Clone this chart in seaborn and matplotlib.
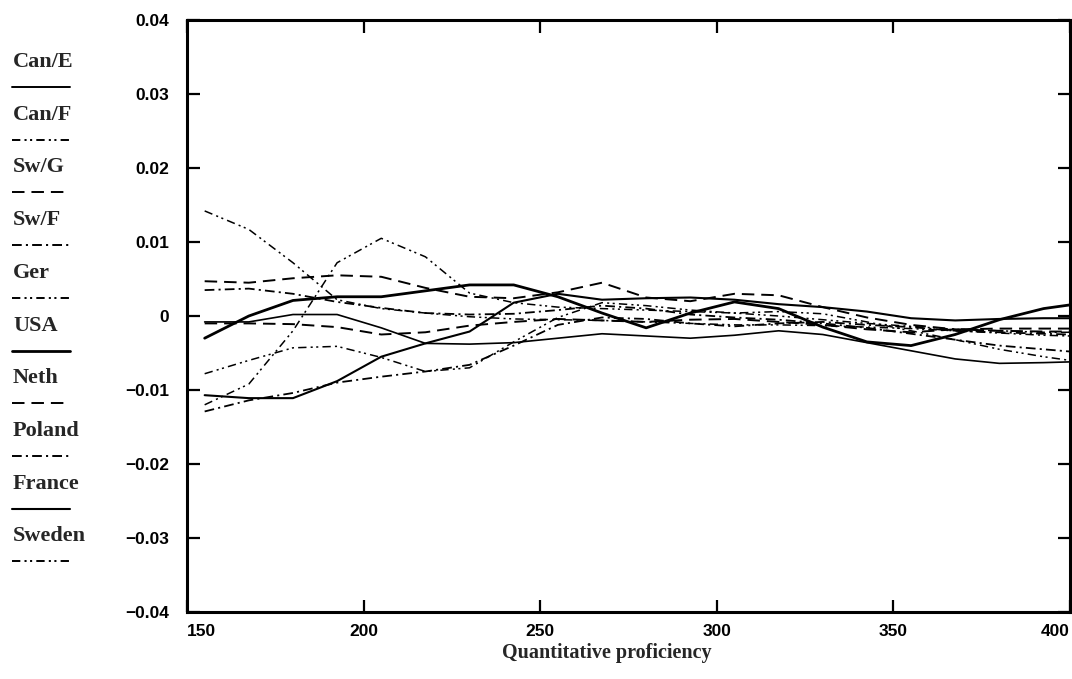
import numpy as np
import pandas as pd
import seaborn as sns
import matplotlib.pyplot as plt
from matplotlib.lines import Line2D

# proficiency grid
xs = [155, 167.5, 180, 192.5, 205, 217.5, 230, 242.5, 255, 267.5, 280,
      292.5, 305, 317.5, 330, 342.5, 355, 367.5, 380, 392.5, 400]

can_e = [-0.0008, -0.0008, 0.0002, 0.0002, -0.0016, -0.0037, -0.0038, -0.0036, -0.0030, -0.0024, -0.0027,
         -0.0030, -0.0026, -0.0020, -0.0025, -0.0036, -0.0047, -0.0058, -0.0064, -0.0063, -0.0062]
can_f = [-0.0120, -0.0092, -0.0020, 0.0072, 0.0105, 0.0080, 0.0031, 0.0018, 0.0012, 0.0010, 0.0008,
         0.0006, 0.0004, 0.0000, -0.0005, -0.0010, -0.0014, -0.0018, -0.0020, -0.0022, -0.0022]
sw_g = [0.0047, 0.0045, 0.0051, 0.0055, 0.0053, 0.0038, 0.0026, 0.0024, 0.0032, 0.0045, 0.0025,
        0.0020, 0.0030, 0.0028, 0.0012, -0.0002, -0.0012, -0.0018, -0.0020, -0.0021, -0.0021]
sw_f = [0.0035, 0.0037, 0.0030, 0.0019, 0.0011, 0.0004, 0.0002, 0.0003, 0.0008, 0.0014, 0.0010,
        0.0002, -0.0002, -0.0005, -0.0010, -0.0016, -0.0024, -0.0032, -0.0040, -0.0045, -0.0048]
ger = [0.0142, 0.0117, 0.0072, 0.0022, 0.0010, 0.0004, -0.0001, -0.0004, -0.0005, -0.0006, -0.0008,
       -0.0010, -0.0012, -0.0012, -0.0013, -0.0015, -0.0017, -0.0020, -0.0023, -0.0026, -0.0027]
usa = [-0.0030, 0.0000, 0.0021, 0.0026, 0.0026, 0.0034, 0.0042, 0.0042, 0.0026, 0.0004, -0.0016,
       0.0004, 0.0019, 0.0010, -0.0015, -0.0035, -0.0040, -0.0025, -0.0005, 0.0010, 0.0015]
neth = [-0.0010, -0.0010, -0.0011, -0.0015, -0.0025, -0.0022, -0.0013, -0.0008, -0.0004, -0.0006, -0.0008,
        -0.0005, -0.0004, -0.0008, -0.0012, -0.0018, -0.0022, -0.0018, -0.0017, -0.0017, -0.0017]
poland = [-0.0129, -0.0114, -0.0104, -0.0090, -0.0082, -0.0075, -0.0066, -0.0040, -0.0012, -0.0002, -0.0004,
          -0.0010, -0.0014, -0.0010, -0.0008, -0.0012, -0.0015, -0.0020, -0.0022, -0.0024, -0.0025]
france = [-0.0107, -0.0111, -0.0111, -0.0088, -0.0055, -0.0037, -0.0021, 0.0018, 0.0030, 0.0022, 0.0024,
          0.0025, 0.0022, 0.0016, 0.0012, 0.0006, -0.0003, -0.0006, -0.0004, -0.0003, -0.0003]
sweden = [-0.0078, -0.0060, -0.0043, -0.0041, -0.0056, -0.0075, -0.0070, -0.0035, -0.0002, 0.0018, 0.0014,
          0.0008, 0.0004, 0.0006, 0.0003, -0.0008, -0.0020, -0.0032, -0.0045, -0.0055, -0.0060]

names = ["Can/E", "Can/F", "Sw/G", "Sw/F", "Ger", "USA", "Neth", "Poland", "France", "Sweden"]
series = [can_e, can_f, sw_g, sw_f, ger, usa, neth, poland, france, sweden]

y_ticks = [0.04, 0.03, 0.02, 0.01, 0, -0.01, -0.02, -0.03, -0.04]
y_labels = ["0.04", "0.03", "0.02", "0.01", "0", "\u22120.01", "\u22120.02", "\u22120.03", "\u22120.04"]
x_ticks = [150, 200, 250, 300, 350, 400]

solid = "-"
longdash = (0, (9, 5))
dashdot = (0, (7, 3, 1.5, 3))
dashdotdot = (0, (6, 3, 1.5, 2.5, 1.5, 3))
styles = [solid, dashdotdot, longdash, dashdot, dashdotdot, solid, longdash, dashdot, solid, dashdotdot]
widths = [1.2, 1.1, 1.4, 1.3, 1.1, 2.0, 1.4, 1.3, 1.5, 1.1]

sns.set_style("ticks")
plt.rcParams["lines.scale_dashes"] = False

fig = plt.figure(figsize=(10.72, 6.79), dpi=100)
ax = fig.add_axes([187 / 1072, 1 - 612 / 679, 883 / 1072, 592 / 679])

for name, vals, ls, lw in zip(names, series, styles, widths):
    df = pd.DataFrame({"x": xs, "y": vals})
    sns.lineplot(data=df, x="x", y="y", ax=ax, color="black", linestyle=ls, linewidth=lw, legend=False)

ax.set_xlim(150, 400)
ax.set_ylim(-0.04, 0.04)
ax.set_yticks(y_ticks)
ax.set_yticklabels(y_labels, fontfamily="Liberation Sans", fontweight="bold", fontsize=12.5)
ax.set_xticks(x_ticks)
ax.set_xticklabels([str(t) for t in x_ticks], fontfamily="Liberation Sans", fontweight="bold", fontsize=12.5)
xl = ax.get_xticklabels()
xl[0].set_ha("left")
xl[-1].set_ha("right")
ax.tick_params(direction="in", length=9, width=1.6, top=True, right=True, colors="black")
ax.tick_params(axis="y", pad=13)
ax.tick_params(axis="x", pad=9)
for sp in ax.spines.values():
    sp.set_visible(True)
    sp.set_linewidth(2.2)
    sp.set_color("black")
ax.set_ylabel("")
ax.set_xlabel("Quantitative proficiency", fontfamily="Liberation Serif", fontweight="bold",
              fontsize=14.5, labelpad=1)
ax.xaxis.set_label_coords(0.476, -0.052)

# legend column on the left: label over a short line sample
for i, (name, ls, lw) in enumerate(zip(names, styles, widths)):
    yc = 62 + 52.7 * i
    fig.text(13 / 1072, 1 - yc / 679, name, ha="left", va="center",
             fontfamily="Liberation Serif", fontweight="bold", fontsize=16)
    fig.add_artist(Line2D([12 / 1072, 70 / 1072], [1 - (yc + 25) / 679] * 2,
                          color="black", linestyle=ls, linewidth=max(lw, 1.4)))

plt.savefig("out.png", dpi=100)
